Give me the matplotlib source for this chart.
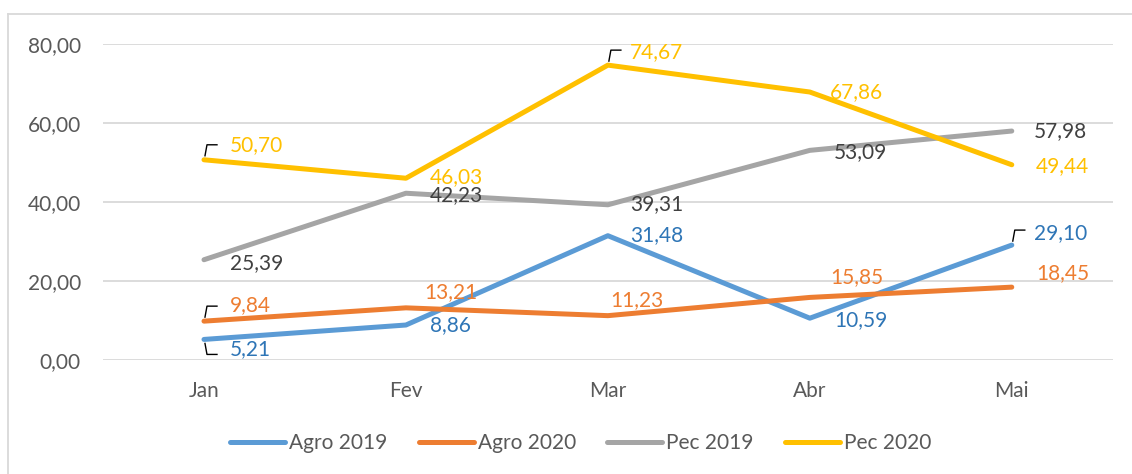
import matplotlib
matplotlib.use("Agg")
import matplotlib.pyplot as plt
from matplotlib.lines import Line2D

plt.rcParams['font.family'] = ['Lato', 'DejaVu Sans']

months = ["Jan", "Fev", "Mar", "Abr", "Mai"]
agro_2019 = [5.21, 8.86, 31.48, 10.59, 29.10]
agro_2020 = [9.84, 13.21, 11.23, 15.85, 18.45]
pec_2019 = [25.39, 42.23, 39.31, 53.09, 57.98]
pec_2020 = [50.70, 46.03, 74.67, 67.86, 49.44]
series_names = ["Agro 2019", "Agro 2020", "Pec 2019", "Pec 2020"]

line_colors = ["#5B9BD5", "#ED7D31", "#A5A5A5", "#FFC000"]
label_colors = ["#2E75B6", "#ED7D31", "#404040", "#FFC000"]

# label offsets in pixels (dx right, dy up) from each point
label_offsets = [
    [(26, -10), (24, 0), (22, 1), (24, -2), (22, 12)],
    [(26, 16), (18, 16), (2, 16), (20, 20), (24, 14)],
    [(26, -3), (24, -2), (22, 1), (24, -2), (22, 0)],
    [(26, 15), (24, 1), (22, 13), (20, 0), (24, -1)],
]
# (series, month, direction) for the small leader lines
leaders = [(0, 0, -1), (1, 0, 1), (3, 0, 1), (3, 2, 1), (0, 4, 1)]

fig = plt.figure(figsize=(11.32, 4.74), dpi=100)
ax = fig.add_axes([0.091, 0.2405, 0.892, 0.6665])

data = [agro_2019, agro_2020, pec_2019, pec_2020]
x = list(range(len(months)))
for i, vals in enumerate(data):
    ax.plot(x, vals, color=line_colors[i], lw=3.6, solid_capstyle='round',
            solid_joinstyle='round', label=series_names[i], zorder=3)

ax.set_xlim(-0.5, 4.5)
ax.set_ylim(0, 80)

for i, vals in enumerate(data):
    for j, v in enumerate(vals):
        dx, dy = label_offsets[i][j]
        ax.annotate(f"{v:.2f}".replace(".", ","), (j, v),
                    xytext=(dx * 0.72, dy * 0.72), textcoords='offset points',
                    ha='left', va='center', fontsize=15,
                    color=label_colors[i], zorder=4)

for i, j, d in leaders:
    v = data[i][j]
    px, py = ax.transData.transform((j, v))
    xs = [px + 1, px + 3, px + 13]
    ys = [py + 4 * d, py + 15 * d, py + 15 * d]
    fig.add_artist(Line2D(xs, ys, color='black', lw=1.0, transform=None, zorder=5))

ax.set_yticks([0, 20, 40, 60, 80])
ax.set_yticklabels([f"{t:.2f}".replace(".", ",") for t in [0, 20, 40, 60, 80]])
ax.set_xticks(x)
ax.set_xticklabels(months)
ax.tick_params(axis='both', length=0, labelsize=15, colors='#595959')
ax.tick_params(axis='y', pad=16)
ax.tick_params(axis='x', pad=15)
ax.grid(axis='y', color='#D9D9D9', lw=1.3)
ax.set_axisbelow(True)
for s in ax.spines.values():
    s.set_visible(False)

leg = fig.legend(loc='center', bbox_to_anchor=(0.513, 0.065), ncol=4, frameon=False,
                 fontsize=15, handlelength=2.64, columnspacing=1.5, handletextpad=0.2)
for t in leg.get_texts():
    t.set_color('#595959')

# chart border (left and top edges visible)
fig.add_artist(Line2D([0.007, 0.007], [0.0, 0.971], color='#D9D9D9', lw=1.3))
fig.add_artist(Line2D([0.007, 1.0], [0.971, 0.971], color='#D9D9D9', lw=1.3))

fig.savefig("out.png", dpi=100)
